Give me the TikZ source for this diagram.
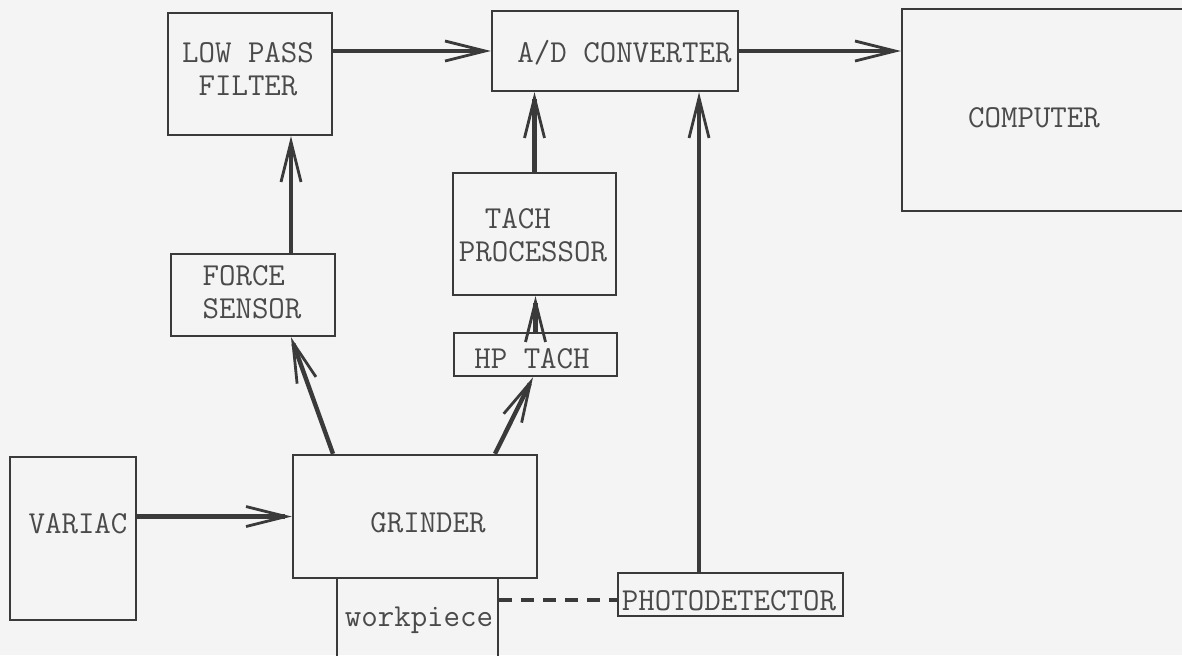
\documentclass[tikz,border=0pt]{standalone}
\usetikzlibrary{arrows.meta,calc}
\definecolor{bg}{HTML}{F4F4F4}
\definecolor{ink}{HTML}{3A3A3A}
\definecolor{txtc}{HTML}{4A4A4A}
\begin{document}
\begin{tikzpicture}[x=0.5pt,y=-0.5pt,
  box/.style={draw=ink, line width=1.2pt, inner sep=0pt, fill=none},
  txt/.style={inner sep=0pt, text=txtc, font=\ttfamily\fontsize{16pt}{16.5pt}\selectfont},
  one/.style={text height=9.6pt, text depth=0pt},
  arr/.style={draw=ink, line width=2.2pt, -{Straight Barb[length=20pt,width=10pt,line width=1.4pt]}},
  dashline/.style={draw=ink, line width=1.8pt, dash pattern=on 6.5pt off 4.5pt}]
\useasboundingbox (0,0) rectangle (1182,655);
\fill[bg] (0,0) rectangle (1182,655);
\clip (0,0) rectangle (1182,655);

% boxes
\node[box, minimum width=82pt,  minimum height=61pt]   (lpf)     at (250,74) {};
\node[box, minimum width=123pt, minimum height=40pt]   (ad)      at (615,51) {};
\node[box, minimum width=149pt, minimum height=101pt]  (comp)    at (1051,110) {};
\node[box, minimum width=82pt,  minimum height=41pt]   (force)   at (253,295) {};
\node[box, minimum width=81.5pt,minimum height=61pt]   (tp)      at (534.5,234) {};
\node[box, minimum width=81.5pt,minimum height=21.5pt] (hp)      at (535.5,354.5) {};
\node[box, minimum width=63pt,  minimum height=81.5pt] (variac)  at (73,538.5) {};
\node[box, minimum width=122pt, minimum height=61.5pt] (grinder) at (415,516.5) {};
\node[box, minimum width=80.5pt,minimum height=51pt]   (wp)      at (417.5,629) {};
\node[box, minimum width=112.5pt,minimum height=21.5pt](pd)      at (730.5,594.5) {};

% texts
\node[txt, align=center] (lpft) at (248,69.5) {LOW PASS\\FILTER};
\node[txt, one] (adt) at (624.5,53) {A/D CONVERTER};
\node[txt, one] (compt) at (1034,118) {COMPUTER};
\node[txt, align=left] (forcet) at (252,292) {FORCE\\SENSOR};
\node[txt, align=left] (tpt) at (533,235.5) {\hspace*{13pt}TACH\\PROCESSOR};
\node[txt, one] (hpt) at (532,359) {HP TACH};
\node[txt, one] (variact) at (78,524) {VARIAC};
\node[txt, one] (grindert) at (428,523) {GRINDER};
\node[txt, one] (wpt) at (419,617) {workpiece};
\node[txt, one] (pdt) at (729,601) {PHOTODETECTOR};

% connectors
\coordinate (f1) at ($(force.north)+(38,0)$);
\draw[arr] (f1) -- (f1 |- lpf.south);
\draw[arr] (lpf.east |- ad.west) -- (ad.west);
\draw[arr] (ad.east) -- (ad.east -| comp.west);
\draw[arr] (tp.north) -- (tp.north |- ad.south);
\draw[arr] (hp.north) -- (hp.north |- tp.south);
\coordinate (p1) at ($(pd.north)+(-31.5,0)$);
\draw[arr] (p1) -- (p1 |- ad.south);
\draw[arr] (variac.east |- grinder.west) -- (grinder.west);
\coordinate (g1) at ($(grinder.north)+(-82,0)$);
\coordinate (f2) at ($(force.south)+(38,0)$);
\draw[arr] (g1) -- (f2);
\coordinate (g2) at ($(grinder.north)+(80,0)$);
\coordinate (h1) at ($(hp.south)+(-2.5,0)$);
\draw[arr] (g2) -- (h1);
\coordinate (w1) at ($(wp.east)+(0,-29)$);
\draw[dashline] (w1) -- (w1 -| pd.west);
\end{tikzpicture}
\end{document}
